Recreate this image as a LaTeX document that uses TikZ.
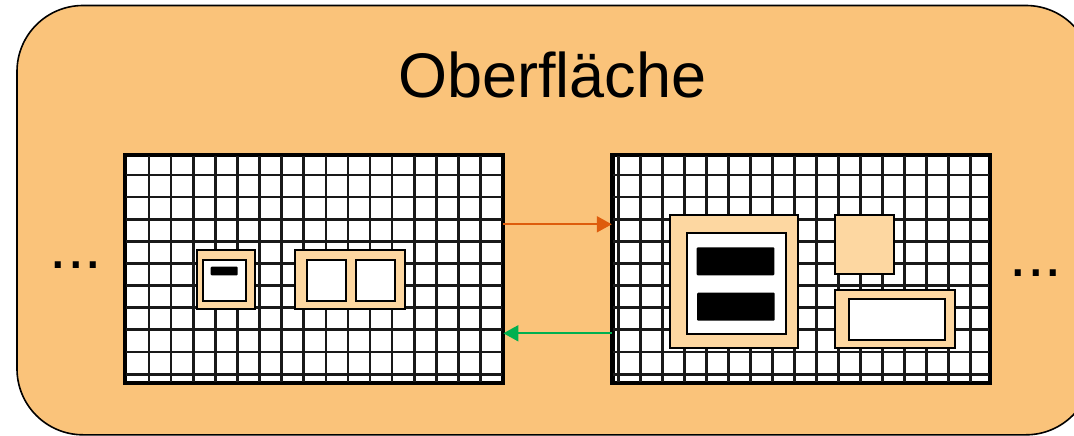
\documentclass[tikz,border=0pt]{standalone}
\usepackage{fontspec}
\setmainfont{Liberation Sans}
\usetikzlibrary{arrows.meta}

\definecolor{flaeche}{RGB}{250,195,122}
\definecolor{pfirsich}{RGB}{253,215,161}
\definecolor{hinfarbe}{RGB}{222,92,12}
\definecolor{zurueckfarbe}{RGB}{0,176,80}

\tikzset{
  panel/.style={draw, line width=2.8pt, fill=white, minimum width=376pt, minimum height=226pt, inner sep=0pt},
  gridline/.style={line width=2.6pt, draw=black!90},
  widget/.style={draw, line width=2pt, fill=pfirsich, inner sep=0pt},
  feld/.style={draw, line width=2pt, fill=white, inner sep=0pt},
  balken/.style={fill=black, inner sep=0pt, rounded corners=1pt},
  hin/.style={-{Triangle[length=15pt,width=16pt]}, line width=2pt, draw=hinfarbe, fill=hinfarbe},
  zurueck/.style={-{Triangle[length=15pt,width=16pt]}, line width=2pt, draw=zurueckfarbe, fill=zurueckfarbe},
  gross/.style={font=\fontsize{63}{70}\selectfont, inner sep=0pt}
}

\begin{document}
\begin{tikzpicture}[x=1pt,y=-1pt]
\useasboundingbox (0,0) rectangle (1074,436);
% Flaeche
\draw[fill=flaeche, line width=1.6pt, rounded corners=66pt] (17,5.5) rectangle (1092,434.8);
\node[gross, anchor=base] (titel) at (552.5,97.3) {Oberfläche};

% die beiden Raster
\node[panel] (links) at (314,269) {};
\node[panel] (rechts) at (801.2,269) {};
\foreach \k in {0,...,15}
  \draw[gridline] ({149+22.1*\k},155) -- ({149+22.1*\k},383);
\foreach \k in {0,...,16}
  \draw[gridline] ({618.3+22.03*\k},155) -- ({618.3+22.03*\k},383);
\foreach \k in {0,...,9} {
  \draw[gridline] (125,{175+22.1*\k}) -- (503,{175+22.1*\k});
  \draw[gridline] (611.7,{175+22.1*\k}) -- (990.7,{175+22.1*\k});
}
\draw[gridline] (125,374.4) -- (503,374.4);
\draw[gridline] (611.7,374.4) -- (990.7,374.4);
\draw[line width=2.8pt] (links.north west) rectangle (links.south east);
\draw[line width=2.8pt] (rechts.north west) rectangle (rechts.south east);

% links
\node[widget, minimum width=58pt, minimum height=59pt] (w1) at (225.9,279.7) {};
\node[feld, minimum width=43.5pt, minimum height=41pt] (w1f) at (224.7,280.5) {};
\node[balken, minimum width=27pt, minimum height=8.6pt] (w1b) at (224.2,271) {};
\node[widget, minimum width=110pt, minimum height=59pt] (w2) at (349.7,279.7) {};
\node[feld, minimum width=39pt, minimum height=41pt] (w2a) at (326.2,280.5) {};
\node[feld, minimum width=39pt, minimum height=41pt] (w2b) at (375.5,280.5) {};

% rechts
\node[widget, minimum width=128pt, minimum height=133.5pt] (w3) at (734.3,281.5) {};
\node[feld, minimum width=98.5pt, minimum height=100.5pt] (w3f) at (736.5,283.7) {};
\node[balken, minimum width=77.6pt, minimum height=28pt] (w3a) at (735.5,261.3) {};
\node[balken, minimum width=77.6pt, minimum height=28pt] (w3b) at (735.9,306.7) {};
\node[widget, minimum width=59pt, minimum height=59pt] (w4) at (864.8,244.8) {};
\node[widget, minimum width=119.5pt, minimum height=58pt] (w5) at (895.2,319.3) {};
\node[feld, minimum width=95.5pt, minimum height=41.3pt] (w5f) at (897.2,319.4) {};

% Uebergaenge
\draw[hin] ([yshift=44.7pt]links.east) -- ([yshift=44.7pt]rechts.west);
\draw[zurueck] ([yshift=-64.3pt]rechts.west) -- ([yshift=-64.3pt]links.east);

\node[gross, anchor=base] (mehrlinks) at (76,268) {...};
\node[gross, anchor=base] (mehrrechts) at (1036,276) {...};
\end{tikzpicture}
\end{document}
